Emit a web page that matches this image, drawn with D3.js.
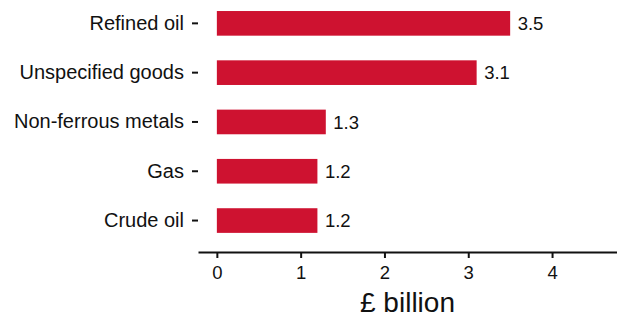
<!DOCTYPE html>
<html>
<head>
<meta charset="utf-8">
<script src="https://cdn.jsdelivr.net/npm/d3@7"></script>
<style>
  body { margin: 0; background: #fff; }
  svg text { font-family: "Liberation Sans", Arial, sans-serif; fill: #111; }
</style>
</head>
<body>
<div id="chart"></div>
<script>
var categories = ["Refined oil", "Unspecified goods", "Non-ferrous metals", "Gas", "Crude oil"];
var values = [3.5, 3.1, 1.3, 1.2, 1.2];
var xTicks = [0, 1, 2, 3, 4];
var axisTitle = "£ billion";

var width = 617;
var height = 314;
var barColor = "#ce1230";

var svg = d3.select("#chart").append("svg")
    .attr("width", width)
    .attr("height", height);

var x = d3.scaleLinear()
    .domain([-0.225, 4.775])
    .range([198, 617]);

var y = d3.scaleBand()
    .domain(categories)
    .range([-1.3, 245.2])
    .paddingInner(0.5)
    .paddingOuter(0.25);

var axisY = 252;

// bars
svg.selectAll("rect.bar")
    .data(values)
    .enter().append("rect")
    .attr("class", "bar")
    .attr("x", x(0))
    .attr("y", function(d, i) { return y(categories[i]); })
    .attr("width", function(d) { return x(d) - x(0); })
    .attr("height", y.bandwidth())
    .attr("fill", barColor);

// value labels
svg.selectAll("text.val")
    .data(values)
    .enter().append("text")
    .attr("class", "val")
    .attr("x", function(d) { return x(d) + 7.5; })
    .attr("y", function(d, i) { return y(categories[i]) + y.bandwidth() / 2; })
    .attr("dy", "0.36em")
    .style("font-size", "18.5px")
    .text(function(d) { return d3.format(".1f")(d); });

// y axis (ticks only, no line)
var gy = svg.append("g")
    .attr("transform", "translate(198,0)")
    .call(d3.axisLeft(y).tickSize(6).tickPadding(8));
gy.select(".domain").remove();
gy.selectAll(".tick line").attr("stroke", "#111").attr("stroke-width", 2);
gy.selectAll(".tick text")
    .style("font-size", "20px")
    .style("font-family", "'Liberation Sans', Arial, sans-serif")
    .attr("fill", "#111");

// x axis
var gx = svg.append("g")
    .attr("transform", "translate(0," + axisY + ")")
    .call(d3.axisBottom(x).tickValues(xTicks).tickFormat(d3.format("d"))
        .tickSize(6).tickSizeOuter(0).tickPadding(8));
gx.select(".domain").attr("stroke", "#111").attr("stroke-width", 2.2);
gx.selectAll(".tick line").attr("stroke", "#111").attr("stroke-width", 2);
gx.selectAll(".tick text")
    .style("font-size", "18.5px")
    .style("font-family", "'Liberation Sans', Arial, sans-serif")
    .attr("fill", "#111");

// axis title
svg.append("text")
    .attr("x", (198 + 617) / 2)
    .attr("y", 312)
    .attr("text-anchor", "middle")
    .style("font-size", "28px")
    .text(axisTitle);
</script>
</body>
</html>
